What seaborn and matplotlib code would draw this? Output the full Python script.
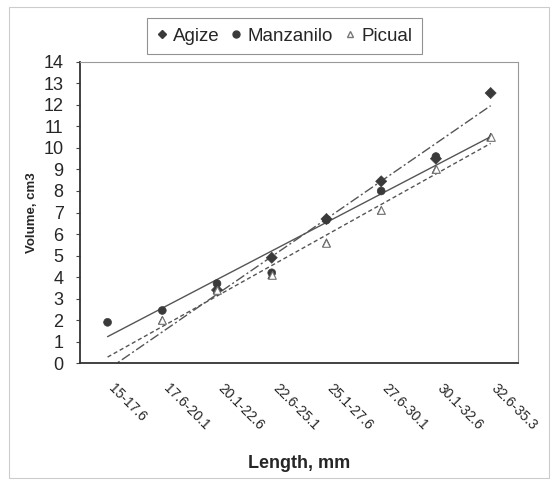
import matplotlib
matplotlib.use("Agg")
import matplotlib.pyplot as plt
from matplotlib.lines import Line2D
from matplotlib.patches import Rectangle
import matplotlib.transforms as mtransforms
import numpy as np
import pandas as pd
import seaborn as sns

# Length classes (mm) and mean volume per class (cm3)
length_classes = ["15-17.6", "17.6-20.1", "20.1-22.6", "22.6-25.1",
                  "25.1-27.6", "27.6-30.1", "30.1-32.6", "32.6-35.3"]
agize = [np.nan, np.nan, 3.4, 4.9, 6.7, 8.45, 9.5, 12.55]
manzanilo = [1.9, 2.45, 3.7, 4.2, 6.65, 8.0, 9.6, np.nan]
picual = [np.nan, 2.0, 3.4, 4.1, 5.6, 7.1, 9.0, 10.5]

series = {"Agize": agize, "Manzanilo": manzanilo, "Picual": picual}
markers = {"Agize": "D", "Manzanilo": "o", "Picual": "^"}
trend_styles = {"Agize": (0, (7, 2, 1.5, 2)), "Manzanilo": "-", "Picual": (0, (3, 2))}

pos = np.arange(1, len(length_classes) + 1)
rows = []
for name, vals in series.items():
    for p, v in zip(pos, vals):
        rows.append({"pos": p, "volume": v, "cultivar": name})
df = pd.DataFrame(rows).dropna()

sns.set_theme(style="white")
plt.rcParams["font.family"] = ["Liberation Sans", "DejaVu Sans"]

fig = plt.figure(figsize=(5.57, 4.83), dpi=100)
ax = fig.add_axes([0.144, 0.248, 0.786, 0.624])

# faint outer chart-area border
fig.patches.append(Rectangle((0.016, 0.01), 0.97, 0.975, transform=fig.transFigure,
                             fill=False, edgecolor="#cccccc", linewidth=0.8))

# linear trend lines over the whole length range
for name, vals in series.items():
    v = np.asarray(vals, dtype=float)
    ok = ~np.isnan(v)
    k, b = np.polyfit(pos[ok], v[ok], 1)
    ax.plot(pos, k * pos + b, color="#555555", lw=1.0,
            linestyle=trend_styles[name], zorder=2)

sns.scatterplot(data=df, x="pos", y="volume", style="cultivar",
                markers=markers, color="#3a3a3a", s=32, edgecolor="#3a3a3a",
                legend=False, ax=ax, zorder=3)
# hollow look for Picual triangles
pic = df[df["cultivar"] == "Picual"]
ax.scatter(pic["pos"], pic["volume"], marker="^", s=30, facecolor="white",
           edgecolor="#777777", linewidth=0.8, zorder=4)

ax.set_xlim(0.5, 8.5)
ax.set_ylim(0, 14)
ax.set_yticks(range(0, 15))
ax.tick_params(axis="y", labelsize=13, length=3, direction="out", left=True,
               width=0.8, color="#444444", pad=9)
ax.set_xticks(pos)
ax.set_xticklabels(length_classes, rotation=-45, ha="left", va="top",
                   rotation_mode="anchor", fontsize=10)
ax.tick_params(axis="x", length=0, pad=13)
shift = mtransforms.ScaledTranslation(8 / 100, 0, fig.dpi_scale_trans)
for lab in ax.get_xticklabels():
    lab.set_transform(lab.get_transform() + shift)

for side in ["left", "bottom"]:
    ax.spines[side].set_color("#333333")
    ax.spines[side].set_linewidth(1.3)
for side in ["top", "right"]:
    ax.spines[side].set_color("#999999")
    ax.spines[side].set_linewidth(0.8)
    ax.spines[side].set_linestyle((0, (2, 1)))

ax.set_xlabel("Length, mm", fontsize=13, fontweight="bold", labelpad=16)
ax.set_ylabel("Volume, cm3", fontsize=9.5, fontweight="bold", labelpad=4)

handles = [
    Line2D([], [], marker="D", color="#3a3a3a", ls="", markersize=4),
    Line2D([], [], marker="o", color="#3a3a3a", ls="", markersize=5),
    Line2D([], [], marker="^", markerfacecolor="white",
           markeredgecolor="#777777", ls="", markersize=5),
]
leg = fig.legend(handles, list(series.keys()), loc="center",
                 bbox_to_anchor=(0.51, 0.925), ncol=3, fontsize=13.5,
                 frameon=True, handlelength=0.6, handletextpad=0.3,
                 columnspacing=0.6, borderpad=0.5, fancybox=False)
leg.get_frame().set_edgecolor("#777777")
leg.get_frame().set_linewidth(0.8)

fig.savefig("out.png", dpi=100)
